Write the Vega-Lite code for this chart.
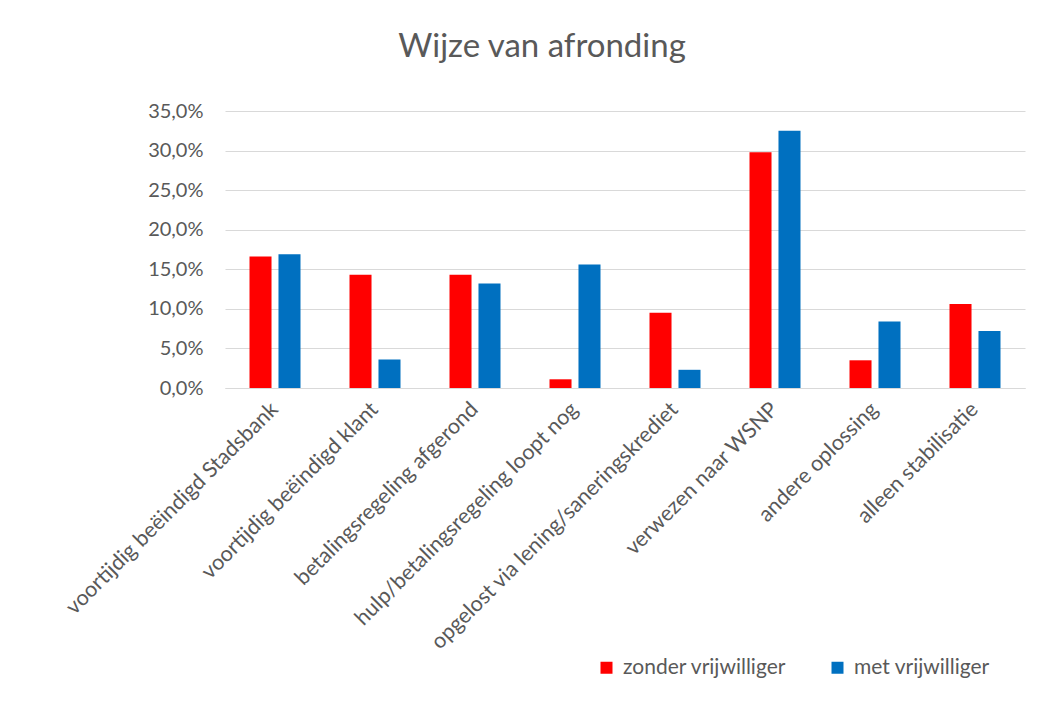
{
  "$schema": "https://vega.github.io/schema/vega-lite/v6.json",
  "width": 800,
  "height": 277,
  "autosize": {"type": "none"},
  "padding": {"left": 225, "top": 111, "right": 20, "bottom": 321},
  "background": "white",
  "title": {
    "text": "Wijze van afronding",
    "font": "Lato",
    "fontSize": 33,
    "fontWeight": "normal",
    "color": "#595959",
    "anchor": "middle",
    "dx": -83,
    "offset": 37
  },
  "data": {
    "values": [
      {"categorie": "voortijdig beëindigd Stadsbank", "groep": "zonder vrijwilliger", "aandeel": 0.166},
      {"categorie": "voortijdig beëindigd Stadsbank", "groep": "met vrijwilliger", "aandeel": 0.169},
      {"categorie": "voortijdig beëindigd klant", "groep": "zonder vrijwilliger", "aandeel": 0.143},
      {"categorie": "voortijdig beëindigd klant", "groep": "met vrijwilliger", "aandeel": 0.036},
      {"categorie": "betalingsregeling afgerond", "groep": "zonder vrijwilliger", "aandeel": 0.143},
      {"categorie": "betalingsregeling afgerond", "groep": "met vrijwilliger", "aandeel": 0.132},
      {"categorie": "hulp/betalingsregeling loopt nog", "groep": "zonder vrijwilliger", "aandeel": 0.011},
      {"categorie": "hulp/betalingsregeling loopt nog", "groep": "met vrijwilliger", "aandeel": 0.156},
      {"categorie": "opgelost via lening/saneringskrediet", "groep": "zonder vrijwilliger", "aandeel": 0.095},
      {"categorie": "opgelost via lening/saneringskrediet", "groep": "met vrijwilliger", "aandeel": 0.023},
      {"categorie": "verwezen naar WSNP", "groep": "zonder vrijwilliger", "aandeel": 0.298},
      {"categorie": "verwezen naar WSNP", "groep": "met vrijwilliger", "aandeel": 0.325},
      {"categorie": "andere oplossing", "groep": "zonder vrijwilliger", "aandeel": 0.035},
      {"categorie": "andere oplossing", "groep": "met vrijwilliger", "aandeel": 0.084},
      {"categorie": "alleen stabilisatie", "groep": "zonder vrijwilliger", "aandeel": 0.106},
      {"categorie": "alleen stabilisatie", "groep": "met vrijwilliger", "aandeel": 0.072}
    ]
  },
  "mark": {"type": "bar"},
  "encoding": {
    "x": {
      "field": "categorie",
      "type": "nominal",
      "sort": null,
      "scale": {"paddingInner": 0.49, "paddingOuter": 0.245},
      "axis": {
        "title": null,
        "labelAngle": -45,
        "labelAlign": "right",
        "labelBaseline": "middle",
        "labelPadding": 18,
        "labelFont": "Lato",
        "labelFontSize": 21.5,
        "labelColor": "#595959",
        "labelLimit": 0,
        "ticks": false,
        "domain": true,
        "domainColor": "#D9D9D9",
        "domainWidth": 1
      }
    },
    "xOffset": {
      "field": "groep",
      "type": "nominal",
      "sort": ["zonder vrijwilliger", "met vrijwilliger"],
      "scale": {"paddingInner": 0.24, "paddingOuter": 0}
    },
    "y": {
      "field": "aandeel",
      "type": "quantitative",
      "scale": {"domain": [0, 0.35], "nice": false},
      "axis": {
        "title": null,
        "values": [0, 0.05, 0.1, 0.15, 0.2, 0.25, 0.3, 0.35],
        "labelExpr": "replace(format(datum.value, '.1%'), '.', ',')",
        "grid": true,
        "gridColor": "#D9D9D9",
        "gridWidth": 1,
        "domain": false,
        "ticks": false,
        "labelPadding": 22,
        "labelFont": "Lato",
        "labelFontSize": 20,
        "labelColor": "#595959"
      }
    },
    "color": {
      "field": "groep",
      "type": "nominal",
      "sort": ["zonder vrijwilliger", "met vrijwilliger"],
      "scale": {"domain": ["zonder vrijwilliger", "met vrijwilliger"], "range": ["#FF0000", "#0070C0"]},
      "legend": {
        "title": null,
        "orient": "none",
        "legendX": 371,
        "legendY": 546,
        "direction": "horizontal",
        "columns": 2,
        "columnPadding": 40,
        "symbolType": "square",
        "symbolSize": 144,
        "symbolStrokeWidth": 0,
        "labelFont": "Lato",
        "labelFontSize": 21,
        "labelColor": "#595959",
        "labelOffset": 6,
        "labelLimit": 0
      }
    }
  },
  "config": {"view": {"stroke": null}}
}
